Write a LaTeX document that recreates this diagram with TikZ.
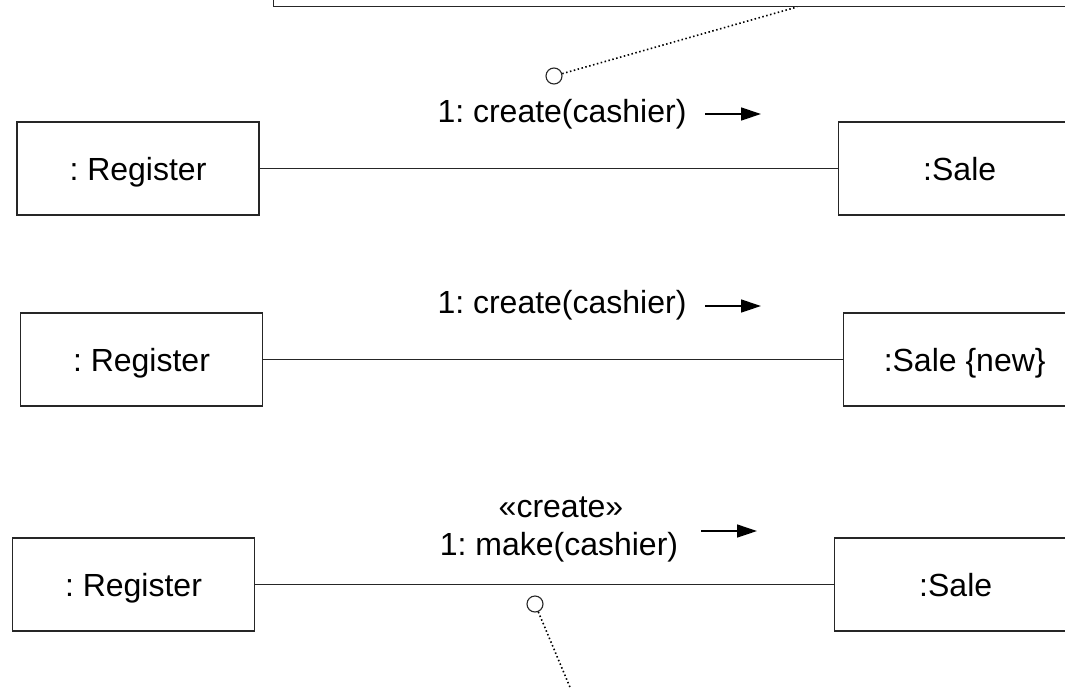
\documentclass[tikz,border=0pt]{standalone}
\usepackage{fontspec}
\setmainfont{Liberation Sans}
\frenchspacing
\usetikzlibrary{arrows.meta,calc}
\tikzset{
  obj/.style={draw=black!85, line width=1.4pt, minimum width=242pt, minimum height=93pt,
              inner sep=0pt, text height=23pt, text depth=0pt,
              font=\fontsize{32}{38}\selectfont},
  link/.style={draw=black!85, line width=1.3pt},
  lbl/.style={inner sep=0pt, font=\fontsize{32}{38}\selectfont, align=center},
  msg/.style={line width=1.3pt, -{Triangle[length=20pt,width=13pt]}},
  ring/.style={circle, draw=black!85, line width=1.1pt, minimum size=16pt, inner sep=0pt},
  anchorline/.style={line width=1.6pt, dash pattern=on 1.5pt off 2.5pt}
}
\begin{document}
\begin{tikzpicture}[x=1pt,y=-1pt]
\useasboundingbox (0,0) rectangle (1065,688);
\clip (0,0) rectangle (1065,688);

% note box running off the top edge
\node[obj, minimum width=840pt, minimum height=120pt, anchor=south west] (note1) at (273,7) {};

% first collaboration: create message
\node[obj] (reg1) at (138,168.5) {: Register};
\node[obj, anchor=west] (sale1) at (838,168.5) {:Sale};
\draw[link] (reg1) -- (sale1);
\node[lbl, anchor=base] (m1) at (562,122) {1: create(cashier)};
\coordinate (a1s) at (705,114);
\coordinate (a1e) at (761,114);
\draw[msg] (a1s) -- (a1e);
\node[ring] (c1) at (554,76) {};
\draw[anchorline] (c1) -- ($(note1.south west)+(524,0)$);

% second collaboration: created instance tagged {new}
\node[obj] (reg2) at (141.5,359.5) {: Register};
\node[obj, anchor=west] (sale2) at (843,359.5) {:Sale {\{new\}}};
\draw[link] (reg2) -- (sale2);
\node[lbl, anchor=base] (m2) at (562,313) {1: create(cashier)};
\coordinate (a2s) at (705,306);
\coordinate (a2e) at (761,306);
\draw[msg] (a2s) -- (a2e);

% third collaboration: stereotyped make message
\node[obj] (reg3) at (133.5,584.5) {: Register};
\node[obj, anchor=west] (sale3) at (834,584.5) {:Sale};
\draw[link] (reg3) -- (sale3);
\node[lbl, anchor=base] (m3a) at (561,517) {«create»};
\node[lbl, anchor=base] (m3b) at (559,555) {1: make(cashier)};
\coordinate (a3s) at (701,531);
\coordinate (a3e) at (757,531);
\draw[msg] (a3s) -- (a3e);
\node[ring] (c3) at (535,604) {};
\coordinate (n3) at (572,692);
\draw[anchorline] (c3) -- (n3);
\end{tikzpicture}
\end{document}
